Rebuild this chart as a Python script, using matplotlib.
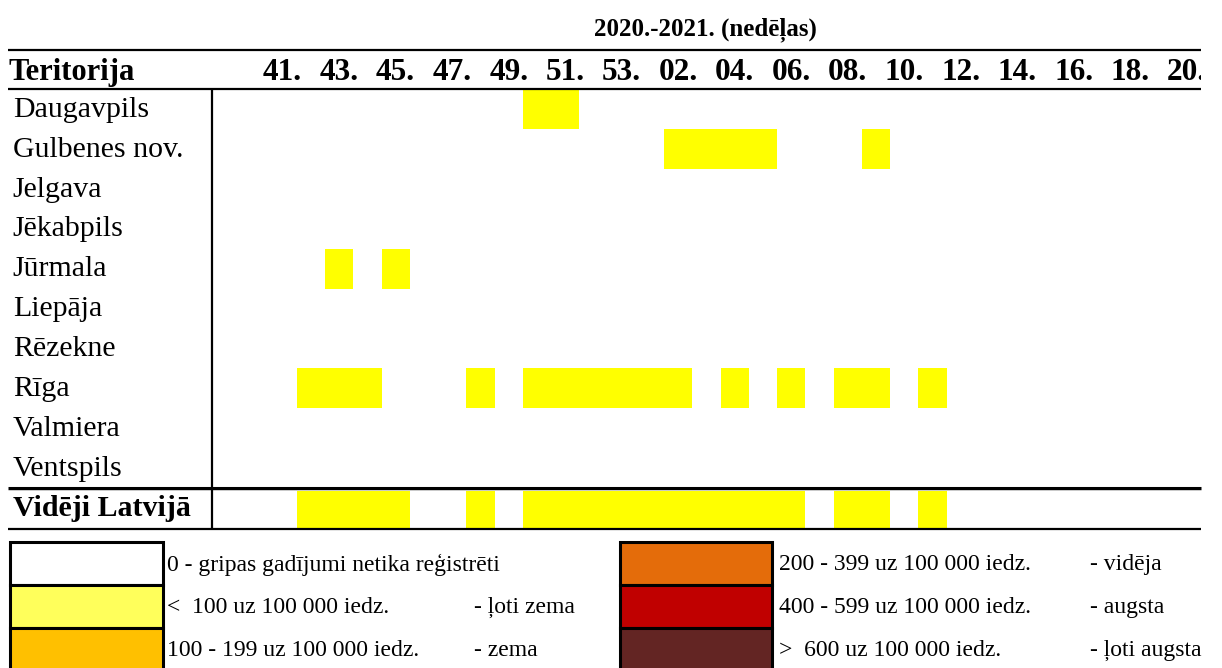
import matplotlib
matplotlib.use("Agg")
import matplotlib.pyplot as plt
from matplotlib.lines import Line2D
from matplotlib.patches import Rectangle

plt.rcParams['font.family'] = ['Liberation Serif', 'DejaVu Serif']

# ---------------- data ----------------
weeks = ['39', '40', '41', '42', '43', '44', '45', '46', '47', '48', '49', '50', '51', '52', '53',
         '01', '02', '03', '04', '05', '06', '07', '08', '09', '10', '11', '12', '13', '14',
         '15', '16', '17', '18', '19', '20']
week_labels = ['41.', '43.', '45.', '47.', '49.', '51.', '53.', '02.', '04.', '06.', '08.',
               '10.', '12.', '14.', '16.', '18.', '20.']
territories = ['Daugavpils', 'Gulbenes nov.', 'Jelgava', 'Jēkabpils', 'Jūrmala', 'Liepāja',
               'Rēzekne', 'Rīga', 'Valmiera', 'Ventspils']
average_label = 'Vidēji Latvijā'

# weeks with level 1 (< 100 uz 100 000 iedz.) per territory
daugavpils = ['50', '51']
gulbenes = ['02', '03', '04', '05', '09']
jelgava = []
jekabpils = []
jurmala = ['43', '45']
liepaja = []
rezekne = []
riga = ['42', '43', '44', '48', '50', '51', '52', '53', '01', '02', '04', '06', '08', '09', '11']
valmiera = []
ventspils = []
videji = ['42', '43', '44', '45', '48', '50', '51', '52', '53', '01', '02', '03', '04', '05',
          '06', '08', '09', '11']
rows_weeks = [daugavpils, gulbenes, jelgava, jekabpils, jurmala, liepaja, rezekne, riga,
              valmiera, ventspils, videji]
level_of_rows = 1

legend_colors = ['#FFFFFF', '#FFFF5B', '#FFC000', '#E46C0A', '#C00000', '#632523']
legend_ranges = ['0 - gripas gadījumi netika reģistrēti', '<  100 uz 100 000 iedz.',
                 '100 - 199 uz 100 000 iedz.', '200 - 399 uz 100 000 iedz.',
                 '400 - 599 uz 100 000 iedz.', '>  600 uz 100 000 iedz.']
legend_names = ['', '- ļoti zema', '- zema', '- vidēja', '- augsta', '- ļoti augsta']
cell_colors = ['#FFFFFF', '#FFFF00', '#FFC000', '#E46C0A', '#C00000', '#632523']

title = '2020.-2021. (nedēļas)'
header = 'Teritorija'

# ---------------- layout ----------------
W, H = 1222, 668
fig = plt.figure(figsize=(W / 100, H / 100), dpi=100)
fig.patch.set_facecolor('white')

def fx(x):
    return x / W

def fy(y):
    return 1 - y / H

x_grid0, x_grid1 = 212, 1201
y_top, y_bot = 49, 528
ax = fig.add_axes([fx(x_grid0), fy(y_bot), fx(x_grid1) - fx(x_grid0), fy(y_top) - fy(y_bot)])
ax.set_xlim(0, len(weeks))
ax.set_ylim(len(rows_weeks), -1)
ax.axis('off')

for r, wk in enumerate(rows_weeks):
    cols = [weeks.index(w) for w in wk]
    if cols:
        ax.bar(cols, 1, bottom=r, width=1, align='edge', color=cell_colors[level_of_rows],
               linewidth=0)

# week labels (header row)
for lab in week_labels:
    c = weeks.index(lab.rstrip('.'))
    ax.text(c + 0.5, -0.42, lab, ha='center', va='center', fontsize=22.5, fontweight='bold',
            clip_on=True)

# row labels
for r, name in enumerate(territories):
    ax.text(-7.05, r + 0.52, name, ha='left', va='center', fontsize=21.5, clip_on=False)
ax.text(-7.05, len(territories) + 0.5, average_label, ha='left', va='center', fontsize=21.5,
        fontweight='bold', clip_on=False)
ax.text(-7.2, -0.42, header, ha='left', va='center', fontsize=22, fontweight='bold',
        clip_on=False)

fig.text(fx(705), fy(30), title, ha='center', va='center', fontsize=18, fontweight='bold')

def hline(y, x0, x1, lw=1.6, color='black'):
    fig.add_artist(Line2D([fx(x0), fx(x1)], [fy(y), fy(y)], transform=fig.transFigure,
                          color=color, lw=lw, solid_capstyle='butt'))

def vline(x, y0, y1, lw=1.6, color='black'):
    fig.add_artist(Line2D([fx(x), fx(x)], [fy(y0), fy(y1)], transform=fig.transFigure,
                          color=color, lw=lw, solid_capstyle='butt'))

hline(49.5, 8, 1201)
hline(88.5, 8, 1201)
hline(487.5, 8, 1201, lw=2.2)
hline(490, 8, 1201, lw=0.7, color='#c8c8c8')
hline(529, 8, 1201)
vline(212, 88.5, 529.5)

# ---------------- legend ----------------
box_rows = [(542, 585), (585, 628), (628, 671)]
box_cols = [(10, 163), (620, 772)]
text_x = [(167, 474), (779, 1090)]
for i in range(6):
    col, row = divmod(i, 3)
    x0, x1 = box_cols[col]
    y0, y1 = box_rows[row]
    fig.add_artist(Rectangle((fx(x0), fy(y1)), fx(x1) - fx(x0), fy(y0) - fy(y1),
                             transform=fig.transFigure, facecolor=legend_colors[i],
                             edgecolor='black', lw=2.2))
    yc = (y0 + y1) / 2 + 1
    fig.text(fx(text_x[col][0]), fy(yc), legend_ranges[i], ha='left', va='center',
             fontsize=17)
    if legend_names[i]:
        fig.text(fx(text_x[col][1]), fy(yc), legend_names[i], ha='left', va='center',
                 fontsize=17)

fig.savefig('out.png', dpi=100, facecolor='white')
